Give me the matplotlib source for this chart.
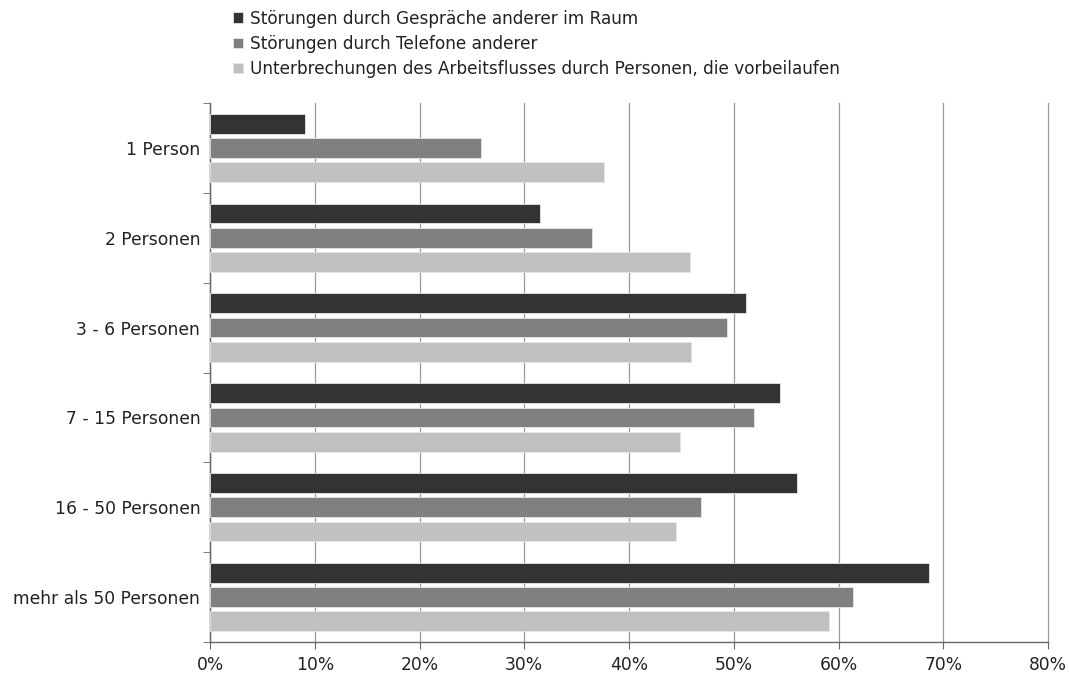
import numpy as np
import matplotlib.pyplot as plt
from matplotlib.ticker import FixedLocator, PercentFormatter

# categories (top to bottom)
categories = ['1 Person', '2 Personen', '3 - 6 Personen', '7 - 15 Personen',
              '16 - 50 Personen', 'mehr als 50 Personen']

# series names
series_names = ['Störungen durch Gespräche anderer im Raum',
                'Störungen durch Telefone anderer',
                'Unterbrechungen des Arbeitsflusses durch Personen, die vorbeilaufen']

# values in percent
gespraeche = [9.1, 31.5, 51.2, 54.4, 56.0, 68.6]
telefone = [25.9, 36.5, 49.4, 51.9, 46.9, 61.4]
vorbeilaufen = [37.6, 45.8, 45.9, 44.9, 44.5, 59.1]

colors = ['#333333', '#808080', '#c0c0c0']

plt.rcParams['font.family'] = ['DejaVu Sans']

fig = plt.figure(figsize=(10.69, 6.73), dpi=100)
ax = fig.add_axes([210 / 1069, 1 - 642 / 673, 838 / 1069, 539 / 673])

y = np.arange(len(categories))
bar_h = 0.22
offsets = [-0.27, 0.0, 0.27]
all_series = [gespraeche, telefone, vorbeilaufen]

for vals, off, col, name in zip(all_series, offsets, colors, series_names):
    ax.barh(y + off, vals, height=bar_h, color=col, label=name,
            edgecolor='#e6e6e6', linewidth=0.6, zorder=3)

ax.set_xlim(0, 80)
ax.set_ylim(len(categories) - 0.5, -0.5)
ax.set_xticks(np.arange(0, 81, 10))
ax.xaxis.set_major_formatter(PercentFormatter(decimals=0))
ax.grid(axis='x', color='#999999', linewidth=0.9, zorder=0)
for gl in ax.get_xgridlines():
    gl.set_clip_on(False)

ax.set_yticks(y)
ax.set_yticklabels(categories)
ax.yaxis.set_minor_locator(FixedLocator(np.arange(-0.5, len(categories), 1.0)))
ax.tick_params(axis='y', which='major', length=0, pad=7, labelsize=12.3, colors='#222222')
ax.tick_params(axis='y', which='minor', length=5, color='#666666', direction='out')
ax.tick_params(axis='x', length=5, color='#666666', direction='out', labelsize=12.3,
               labelcolor='#222222', pad=5)

for side in ['top', 'right']:
    ax.spines[side].set_visible(False)
for side in ['left', 'bottom']:
    ax.spines[side].set_color('#666666')
    ax.spines[side].set_linewidth(1.0)

leg = fig.legend(loc='upper left', bbox_to_anchor=(226 / 1069, 1 - 3 / 673), frameon=False,
                 fontsize=12.2, handlelength=0.6, handleheight=0.6, handletextpad=0.4,
                 labelspacing=0.42, borderaxespad=0)
for t in leg.get_texts():
    t.set_color('#222222')

fig.savefig('out.png', dpi=100)
